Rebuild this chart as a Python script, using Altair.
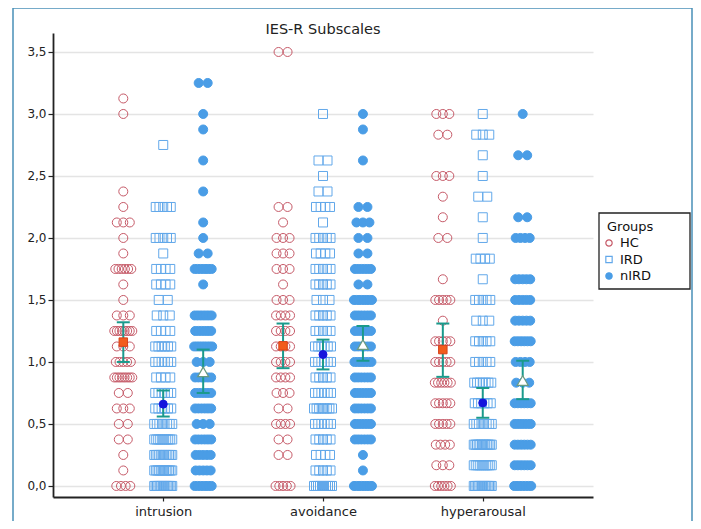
import altair as alt
import pandas as pd

TITLE = "IES-R Subscales"
LEGEND_TITLE = "Groups"
SUBSCALES = ["intrusion", "avoidance", "hyperarousal"]
GROUPS = ["HC", "IRD", "nIRD"]

# ---- intrusion ----
INT_HC_VALUES = [3.125, 3.0, 2.375, 2.25, 2.125, 2.0, 1.875, 1.75, 1.625, 1.5, 1.375, 1.25, 1.125, 1.0, 0.875, 0.75, 0.625, 0.5, 0.375, 0.25, 0.125, 0.0]
INT_HC_COUNTS = [1, 1, 1, 1, 3, 1, 1, 6, 1, 1, 3, 8, 3, 5, 8, 2, 3, 2, 2, 1, 1, 4]
INT_IRD_VALUES = [2.75, 2.25, 2.0, 1.875, 1.75, 1.625, 1.5, 1.375, 1.25, 1.125, 1.0, 0.875, 0.75, 0.625, 0.5, 0.375, 0.25, 0.125, 0.0]
INT_IRD_COUNTS = [1, 5, 5, 1, 4, 4, 2, 3, 4, 6, 6, 4, 6, 6, 8, 10, 12, 12, 14]
INT_NIRD_VALUES = [3.25, 3.0, 2.875, 2.625, 2.375, 2.125, 2.0, 1.875, 1.75, 1.625, 1.375, 1.25, 1.125, 1.0, 0.875, 0.75, 0.625, 0.5, 0.375, 0.25, 0.125, 0.0]
INT_NIRD_COUNTS = [2, 1, 1, 1, 1, 1, 1, 2, 7, 1, 7, 6, 8, 3, 6, 6, 6, 3, 6, 5, 5, 7]

# ---- avoidance ----
AVO_HC_VALUES = [3.5, 2.25, 2.125, 2.0, 1.875, 1.75, 1.625, 1.5, 1.375, 1.25, 1.125, 1.0, 0.875, 0.75, 0.625, 0.5, 0.375, 0.25, 0.0]
AVO_HC_COUNTS = [2, 2, 1, 3, 3, 3, 1, 3, 4, 4, 4, 4, 4, 3, 2, 4, 2, 2, 5]
AVO_IRD_VALUES = [3.0, 2.625, 2.5, 2.375, 2.25, 2.125, 2.0, 1.875, 1.75, 1.625, 1.5, 1.375, 1.25, 1.125, 1.0, 0.875, 0.75, 0.625, 0.5, 0.375, 0.25, 0.125, 0.0]
AVO_IRD_COUNTS = [1, 2, 1, 2, 4, 1, 5, 4, 5, 5, 3, 5, 5, 6, 6, 5, 6, 8, 6, 5, 4, 5, 10]
AVO_NIRD_VALUES = [3.0, 2.875, 2.625, 2.25, 2.125, 2.0, 1.875, 1.75, 1.625, 1.5, 1.375, 1.25, 1.125, 1.0, 0.875, 0.75, 0.625, 0.5, 0.375, 0.25, 0.125, 0.0]
AVO_NIRD_COUNTS = [1, 1, 1, 2, 3, 2, 2, 6, 2, 8, 6, 6, 6, 7, 6, 6, 6, 6, 6, 1, 1, 8]

# ---- hyperarousal ----
HYP_HC_VALUES = [3.0, 2.833, 2.5, 2.333, 2.167, 2.0, 1.667, 1.5, 1.333, 1.167, 1.0, 0.833, 0.667, 0.5, 0.333, 0.167, 0.0]
HYP_HC_COUNTS = [3, 2, 3, 1, 1, 2, 1, 5, 1, 5, 5, 6, 5, 5, 4, 3, 6]
HYP_IRD_VALUES = [3.0, 2.833, 2.667, 2.5, 2.333, 2.167, 2.0, 1.833, 1.667, 1.5, 1.333, 1.167, 1.0, 0.833, 0.667, 0.5, 0.333, 0.167, 0.0]
HYP_IRD_COUNTS = [1, 3, 1, 1, 2, 1, 1, 4, 1, 5, 3, 5, 5, 7, 6, 8, 12, 10, 14]
HYP_NIRD_VALUES = [3.0, 2.667, 2.167, 2.0, 1.667, 1.5, 1.333, 1.167, 1.0, 0.833, 0.667, 0.5, 0.333, 0.167, 0.0]
HYP_NIRD_COUNTS = [1, 2, 2, 4, 5, 5, 5, 6, 4, 3, 6, 6, 6, 6, 7]

# ---- means and 95% CI (order: HC, IRD, nIRD) ----
INT_MEAN = [1.16, 0.66, 0.92]
INT_LO = [1.00, 0.56, 0.75]
INT_HI = [1.32, 0.77, 1.10]
AVO_MEAN = [1.13, 1.06, 1.14]
AVO_LO = [0.95, 0.94, 1.01]
AVO_HI = [1.31, 1.18, 1.29]
HYP_MEAN = [1.10, 0.67, 0.85]
HYP_LO = [0.88, 0.55, 0.70]
HYP_HI = [1.31, 0.79, 1.01]

SERIES = {
    ("intrusion", "HC"): (INT_HC_VALUES, INT_HC_COUNTS),
    ("intrusion", "IRD"): (INT_IRD_VALUES, INT_IRD_COUNTS),
    ("intrusion", "nIRD"): (INT_NIRD_VALUES, INT_NIRD_COUNTS),
    ("avoidance", "HC"): (AVO_HC_VALUES, AVO_HC_COUNTS),
    ("avoidance", "IRD"): (AVO_IRD_VALUES, AVO_IRD_COUNTS),
    ("avoidance", "nIRD"): (AVO_NIRD_VALUES, AVO_NIRD_COUNTS),
    ("hyperarousal", "HC"): (HYP_HC_VALUES, HYP_HC_COUNTS),
    ("hyperarousal", "IRD"): (HYP_IRD_VALUES, HYP_IRD_COUNTS),
    ("hyperarousal", "nIRD"): (HYP_NIRD_VALUES, HYP_NIRD_COUNTS),
}
rows = []
for (sub, grp), (vals, cnts) in SERIES.items():
    for v, c in zip(vals, cnts):
        for _ in range(c):
            rows.append({"subscale": sub, "group": grp, "value": v})
points = pd.DataFrame(rows)

STATS = {"intrusion": (INT_MEAN, INT_LO, INT_HI),
         "avoidance": (AVO_MEAN, AVO_LO, AVO_HI),
         "hyperarousal": (HYP_MEAN, HYP_LO, HYP_HI)}
mrows = []
for sub, (m, lo, hi) in STATS.items():
    for i, g in enumerate(GROUPS):
        mrows.append({"subscale": sub, "group": g, "mean": m[i], "lo": lo[i], "hi": hi[i]})
means = pd.DataFrame(mrows)

HC_COLOR = "#c65a68"
IRD_COLOR = "#62a8ea"
NIRD_COLOR = "#4a9de6"
BAR_COLOR = "#1a9a8c"
FONT = "DejaVu Sans"

W, H = 540, 464
XDOM = [0.31, 3.69]
YDOM = [-0.089, 3.653]
PX_PER_UNIT = W / (XDOM[1] - XDOM[0])

sub_arr = "[" + ",".join("'%s'" % s for s in SUBSCALES) + "]"
grp_arr = "[" + ",".join("'%s'" % g for g in GROUPS) + "]"
center_expr = f"indexof({sub_arr}, datum.subscale) + 1 + (indexof({grp_arr}, datum.group) - 1) * 0.25"

label_expr = " : ".join(
    f"datum.value == {i + 1} ? '{s}'" for i, s in enumerate(SUBSCALES[:-1])
) + f" : '{SUBSCALES[-1]}'"

xscale = alt.Scale(domain=XDOM, nice=False, zero=False)
yscale = alt.Scale(domain=YDOM, nice=False, zero=False)

xaxis = alt.Axis(values=[1, 2, 3], labelExpr=label_expr, title=None, grid=False,
                 domainColor="#222222", domainWidth=1.8, tickColor="#222222",
                 tickSize=4, tickWidth=1.2, labelFont=FONT, labelFontSize=13,
                 labelColor="#222222", labelPadding=4)
yaxis = alt.Axis(values=[0, 0.5, 1, 1.5, 2, 2.5, 3, 3.5],
                 labelExpr="replace(format(datum.value, '.1f'), '.', ',')",
                 title=None, grid=True, gridColor="#e4e4e4", gridWidth=1.5,
                 domainColor="#222222", domainWidth=1.8, tickColor="#222222",
                 tickSize=5, tickWidth=1.2, labelFont=FONT, labelFontSize=12,
                 labelColor="#222222", labelPadding=2)

stroke_scale = alt.Scale(domain=GROUPS, range=[HC_COLOR, IRD_COLOR, NIRD_COLOR])
fill_scale = alt.Scale(domain=GROUPS, range=["transparent", "transparent", NIRD_COLOR])
shape_scale = alt.Scale(domain=GROUPS, range=["circle", "square", "circle"])

pts = alt.Chart(points).transform_window(
    r="row_number()", groupby=["subscale", "group", "value"]
).transform_joinaggregate(
    n="count()", groupby=["subscale", "group", "value"]
).transform_calculate(
    span="min(9 * (datum.n - 1), 10 + datum.n, 18)"
).transform_calculate(
    px="datum.n > 1 ? (datum.r - 1) / (datum.n - 1) * datum.span - datum.span / 2 : 0"
).transform_calculate(
    xpos=f"{center_expr} + datum.px / {PX_PER_UNIT}"
).mark_point(strokeWidth=1, opacity=1).encode(
    x=alt.X("xpos:Q", scale=xscale, axis=xaxis),
    y=alt.Y("value:Q", scale=yscale, axis=yaxis),
    stroke=alt.Stroke("group:N", scale=stroke_scale, legend=None),
    fill=alt.Fill("group:N", scale=fill_scale, legend=None),
    shape=alt.Shape("group:N", scale=shape_scale, legend=None),
    size=alt.Size("group:N", scale=alt.Scale(domain=GROUPS, range=[81, 81, 45]), legend=None),
)

mbase = alt.Chart(means).transform_calculate(xpos=center_expr)

bars = mbase.mark_rule(color=BAR_COLOR, strokeWidth=2).encode(
    x=alt.X("xpos:Q", scale=xscale), y=alt.Y("lo:Q", scale=yscale), y2="hi:Q")
cap_lo = mbase.mark_tick(orient="horizontal", size=13, thickness=2, color=BAR_COLOR, opacity=1).encode(
    x=alt.X("xpos:Q", scale=xscale), y=alt.Y("lo:Q", scale=yscale))
cap_hi = mbase.mark_tick(orient="horizontal", size=13, thickness=2, color=BAR_COLOR, opacity=1).encode(
    x=alt.X("xpos:Q", scale=xscale), y=alt.Y("hi:Q", scale=yscale))

MEAN_STYLE = {
    "HC": dict(shape="square", fill="#f25c1c", stroke="#d8401a", size=72, strokeWidth=1),
    "IRD": dict(shape="circle", fill="#1515dd", stroke="#1515dd", size=64, strokeWidth=1),
    "nIRD": dict(shape="triangle-up", fill="#ffffff", stroke="#6a9a80", size=120, strokeWidth=1.2),
}
mean_layers = []
for g in GROUPS:
    st = MEAN_STYLE[g]
    mean_layers.append(
        mbase.transform_filter(alt.datum.group == g).mark_point(
            shape=st["shape"], filled=True, fill=st["fill"], stroke=st["stroke"],
            size=st["size"], strokeWidth=st["strokeWidth"], opacity=1
        ).encode(x=alt.X("xpos:Q", scale=xscale), y=alt.Y("mean:Q", scale=yscale))
    )

one = pd.DataFrame({"k": [0]})
frame = alt.Chart(one).mark_rect(fill="transparent", stroke="#4a90b8", strokeWidth=1.5).encode(
    x=alt.value(-40), x2=alt.value(639), y=alt.value(-25), y2=alt.value(520))
title = alt.Chart(one).mark_text(font=FONT, fontSize=14.5, color="#222222",
                                 align="center", baseline="alphabetic").encode(
    x=alt.value(W / 2), y=alt.value(1), text=alt.value(TITLE))

main = alt.layer(frame, pts, bars, cap_lo, cap_hi, *mean_layers, title)

# ---- hand-built legend box (symbols share the point scales) ----
leg_df = pd.DataFrame({"group": GROUPS})
leg_y = alt.Y("group:N", scale=alt.Scale(type="point", domain=GROUPS, range=[210, 243], padding=0), axis=None)
leg_box = alt.Chart(one).mark_rect(fill="transparent", stroke="#222222", strokeWidth=1.3).encode(
    x=alt.value(546), x2=alt.value(637), y=alt.value(180), y2=alt.value(256))
leg_title = alt.Chart(one).mark_text(font=FONT, fontSize=13, color="#111111",
                                     align="left", baseline="middle").encode(
    x=alt.value(554), y=alt.value(193.5), text=alt.value(LEGEND_TITLE))
leg_sym = alt.Chart(leg_df).mark_point(size=40, strokeWidth=1.2, opacity=1).encode(
    x=alt.value(556), y=leg_y,
    stroke=alt.Stroke("group:N", legend=None),
    fill=alt.Fill("group:N", legend=None),
    shape=alt.Shape("group:N", legend=None),
)
leg_lab = alt.Chart(leg_df).mark_text(font=FONT, fontSize=13, color="#111111",
                                      align="left", baseline="middle").encode(
    x=alt.value(567), y=leg_y, text="group:N")
legend_layer = alt.layer(leg_box, leg_title, leg_sym, leg_lab)

chart = alt.layer(main, legend_layer).resolve_scale(y="independent").properties(
    width=W, height=H,
    autosize=alt.AutoSizeParams(type="none"),
    padding={"left": 45, "top": 25, "right": 100, "bottom": 24},
).configure_view(strokeWidth=0)

chart.save("out.html", embed_options={"renderer": "svg", "actions": False})
